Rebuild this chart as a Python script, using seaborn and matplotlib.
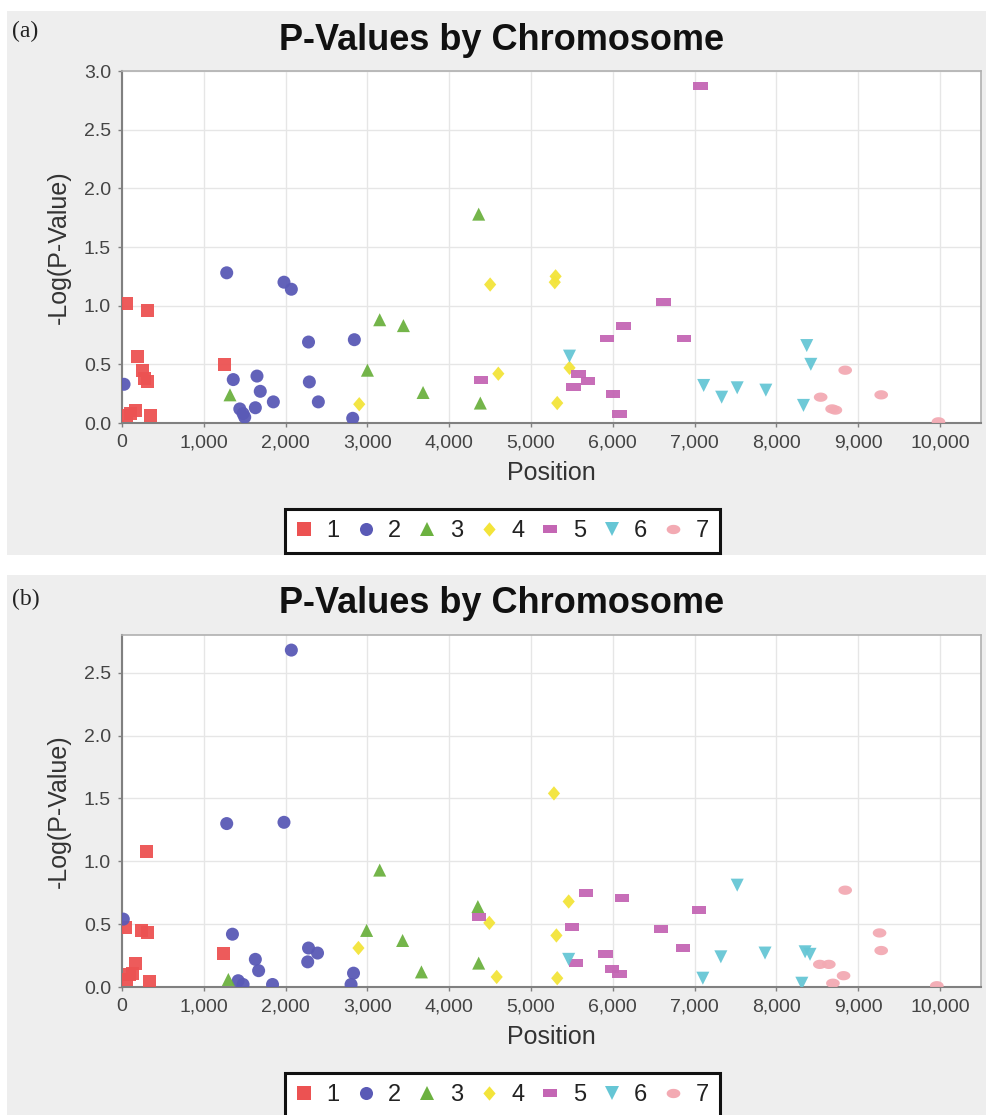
import numpy as np
import pandas as pd
import matplotlib
matplotlib.use("Agg")
import matplotlib.pyplot as plt
from matplotlib.path import Path
from matplotlib.patches import Rectangle
from matplotlib.markers import MarkerStyle
from matplotlib.lines import Line2D
from matplotlib.transforms import Affine2D
from matplotlib.ticker import FuncFormatter, MultipleLocator
import seaborn as sns

# ---------------- Panel (a) ----------------
a_pos_1 = [50, 60, 100, 160, 190, 250, 280, 310, 310, 350, 1250]
a_val_1 = [1.02, 0.06, 0.08, 0.11, 0.57, 0.45, 0.38, 0.96, 0.35, 0.06, 0.50]
a_pos_2 = [25, 1280, 1360, 1440, 1480, 1500, 1630, 1650, 1690, 1850, 1980, 2070,
           2280, 2290, 2400, 2820, 2840]
a_val_2 = [0.33, 1.28, 0.37, 0.12, 0.08, 0.05, 0.13, 0.40, 0.27, 0.18, 1.20, 1.14,
           0.69, 0.35, 0.18, 0.04, 0.71]
a_pos_3 = [1320, 3000, 3150, 3440, 3680, 4360, 4380]
a_val_3 = [0.24, 0.45, 0.88, 0.83, 0.26, 1.78, 0.17]
a_pos_4 = [2900, 4500, 4600, 5290, 5300, 5320, 5470]
a_val_4 = [0.16, 1.18, 0.42, 1.20, 1.25, 0.17, 0.47]
a_pos_5 = [4390, 5520, 5580, 5700, 5930, 6000, 6080, 6130, 6620, 6870, 7070]
a_val_5 = [0.37, 0.31, 0.42, 0.36, 0.72, 0.25, 0.08, 0.83, 1.03, 0.72, 2.87]
a_pos_6 = [5470, 7110, 7330, 7520, 7870, 8330, 8370, 8420]
a_val_6 = [0.57, 0.32, 0.22, 0.30, 0.28, 0.15, 0.66, 0.50]
a_pos_7 = [8540, 8680, 8720, 8840, 9280, 9980]
a_val_7 = [0.22, 0.12, 0.11, 0.45, 0.24, 0.01]

# ---------------- Panel (b) ----------------
b_pos_1 = [40, 60, 90, 130, 170, 240, 300, 310, 340, 1240]
b_val_1 = [0.47, 0.06, 0.10, 0.11, 0.19, 0.45, 1.08, 0.43, 0.04, 0.27]
b_pos_2 = [16, 1280, 1350, 1420, 1480, 1630, 1670, 1840, 1980, 2070, 2270, 2280,
           2390, 2800, 2830]
b_val_2 = [0.54, 1.30, 0.42, 0.05, 0.02, 0.22, 0.13, 0.02, 1.31, 2.68, 0.20, 0.31,
           0.27, 0.02, 0.11]
b_pos_3 = [1300, 2990, 3150, 3430, 3660, 4350, 4360]
b_val_3 = [0.06, 0.45, 0.93, 0.37, 0.12, 0.64, 0.19]
b_pos_4 = [2890, 4490, 4580, 5280, 5310, 5320, 5460]
b_val_4 = [0.31, 0.51, 0.08, 1.54, 0.41, 0.07, 0.68]
b_pos_5 = [4360, 5500, 5550, 5670, 5910, 5990, 6080, 6110, 6590, 6860, 7050]
b_val_5 = [0.56, 0.48, 0.19, 0.75, 0.26, 0.14, 0.10, 0.71, 0.46, 0.31, 0.61]
b_pos_6 = [5460, 7100, 7320, 7520, 7860, 8310, 8350, 8410]
b_val_6 = [0.22, 0.07, 0.24, 0.81, 0.27, 0.03, 0.28, 0.26]
b_pos_7 = [8530, 8640, 8690, 8820, 8840, 9260, 9280, 9960]
b_val_7 = [0.18, 0.18, 0.03, 0.09, 0.77, 0.43, 0.29, 0.01]

chromosomes = ["1", "2", "3", "4", "5", "6", "7"]
tick_positions = [0, 1000, 2000, 3000, 4000, 5000, 6000, 7000, 8000, 9000, 10000]


def frame(pos_lists, val_lists):
    rows = []
    for chrom, ps, vs in zip(chromosomes, pos_lists, val_lists):
        for p, v in zip(ps, vs):
            rows.append({"Position": p, "-Log(P-Value)": v, "Chromosome": chrom})
    return pd.DataFrame(rows)


df_a = frame([a_pos_1, a_pos_2, a_pos_3, a_pos_4, a_pos_5, a_pos_6, a_pos_7],
             [a_val_1, a_val_2, a_val_3, a_val_4, a_val_5, a_val_6, a_val_7])
df_b = frame([b_pos_1, b_pos_2, b_pos_3, b_pos_4, b_pos_5, b_pos_6, b_pos_7],
             [b_val_1, b_val_2, b_val_3, b_val_4, b_val_5, b_val_6, b_val_7])

# series colours and shapes
palette = {
    "1": "#EC5252",
    "2": "#5A5AB6",
    "3": "#6CB140",
    "4": "#F3E43A",
    "5": "#C466B4",
    "6": "#66C6D5",
    "7": "#F3AAB3",
}
diamond = Path([(0, 1), (0.85, 0), (0, -1), (-0.85, 0), (0, 1)], closed=True)
bar = Path([(-1, -0.55), (1, -0.55), (1, 0.55), (-1, 0.55), (-1, -0.55)], closed=True)
t = np.linspace(0, 2 * np.pi, 40)
oval = Path(np.column_stack([np.cos(t), 0.68 * np.sin(t)]), closed=True)
markers = {
    "1": MarkerStyle("s"),
    "2": MarkerStyle("o"),
    "3": MarkerStyle("^"),
    "4": MarkerStyle(diamond, transform=Affine2D().scale(1.1)),
    "5": MarkerStyle(bar, transform=Affine2D().scale(1.1)),
    "6": MarkerStyle("v"),
    "7": MarkerStyle(oval, transform=Affine2D().scale(1.05)),
}

sns.set_theme(style="white")
plt.rcParams["font.family"] = ["Liberation Sans", "DejaVu Sans"]

W, H = 986, 1115
fig = plt.figure(figsize=(W / 100, H / 100), dpi=100)
fig.patch.set_facecolor("white")

panels = [
    # (df, tag, grey top, grey bottom, axes top, axes bottom, ymax,
    #  title baseline, legend centre, tag baseline)
    (df_a, "(a)", 11, 555, 71, 423, 3.0, 50, 531, 37),
    (df_b, "(b)", 575, 1115, 635, 987, 2.8, 613, 1095, 605),
]

for df, tag, g0, g1, top, bot, ymax, title_y, leg_y, tag_y in panels:
    fig.add_artist(Rectangle((7 / W, 1 - g1 / H), 1 - 7 / W, (g1 - g0) / H,
                             transform=fig.transFigure, facecolor="#EEEEEE",
                             edgecolor="none", zorder=-10))
    ax = fig.add_axes([122 / W, 1 - bot / H, 859 / W, (bot - top) / H])
    ax.set_facecolor("white")
    sns.scatterplot(data=df, x="Position", y="-Log(P-Value)", hue="Chromosome",
                    style="Chromosome", palette=palette, markers=markers,
                    hue_order=chromosomes, style_order=chromosomes,
                    s=88, linewidth=0, alpha=0.95, legend=False, ax=ax, zorder=3)
    ax.set_xlim(0, 10500)
    ax.set_ylim(0, ymax)
    ax.set_xticks(tick_positions)
    ax.yaxis.set_major_locator(MultipleLocator(0.5))
    ax.xaxis.set_major_formatter(FuncFormatter(lambda v, _: f"{v:,.0f}"))
    ax.yaxis.set_major_formatter(FuncFormatter(lambda v, _: f"{v:.1f}"))
    ax.grid(True, color="#E6E6E6", linewidth=1.0, zorder=0)
    ax.set_axisbelow(True)
    for side in ["top", "right"]:
        ax.spines[side].set_color("#B0B0B0")
        ax.spines[side].set_linewidth(1.2)
    for side in ["left", "bottom"]:
        ax.spines[side].set_color("#808080")
        ax.spines[side].set_linewidth(1.5)
    ax.tick_params(axis="both", which="major", direction="out", length=3,
                   width=1, color="#808080", labelsize=14, labelcolor="#444444",
                   pad=5, bottom=True, left=True)
    ax.set_xlabel("Position", fontsize=18, color="#333333", labelpad=7)
    ax.set_ylabel("-Log(P-Value)", fontsize=18, color="#333333", labelpad=9)

    fig.text(502 / W, 1 - title_y / H, "P-Values by Chromosome", ha="center",
             va="baseline", fontsize=26, fontweight="bold", color="#111111")
    fig.text(12 / W, 1 - tag_y / H, tag, ha="left", va="baseline", fontsize=17,
             family=["Liberation Serif", "DejaVu Serif"], color="#222222")

    handles = [Line2D([], [], linestyle="none", marker=markers[c],
                      markersize=9.4, markerfacecolor=palette[c],
                      markeredgewidth=0, color=palette[c]) for c in chromosomes]
    leg = ax.legend(handles, chromosomes, loc="center",
                    bbox_to_anchor=(502.5 / W, 1 - leg_y / H),
                    bbox_transform=fig.transFigure, ncol=7, frameon=True,
                    fancybox=False, fontsize=17, handlelength=0.7,
                    handletextpad=0.6, columnspacing=0.75, borderpad=0.45,
                    borderaxespad=0, labelcolor="#222222")
    fr = leg.get_frame()
    fr.set_edgecolor("#111111")
    fr.set_linewidth(2.2)
    fr.set_facecolor("white")
    fr.set_alpha(1)

fig.savefig("out.png", dpi=100, facecolor="white")
